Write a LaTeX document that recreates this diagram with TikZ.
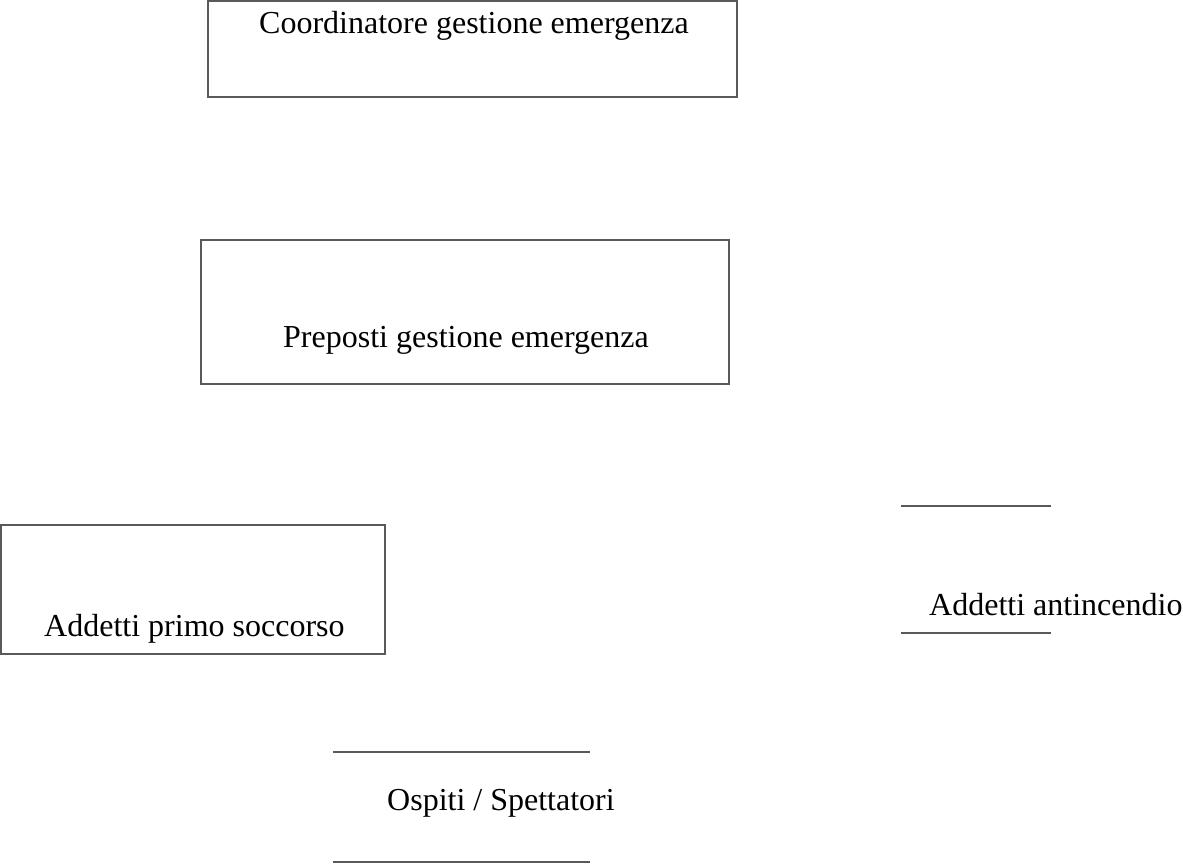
\documentclass[tikz,border=0pt]{standalone}
\usepackage{fontspec}
\setmainfont{Liberation Serif}
\begin{document}
\begin{tikzpicture}[x=1pt,y=-1pt,
  frame/.style={draw=black!65, line width=1.3pt},
  box/.style={frame, rectangle, inner sep=0pt},
  lbl/.style={anchor=base west, inner sep=0pt, font=\fontsize{32}{38}\selectfont}]
\useasboundingbox (0,0) rectangle (1183,865);
\fill[white] (0,0) rectangle (1183,865);
% boxes
\node[box, minimum width=529pt, minimum height=96pt] (b1) at (472.5,49) {};
\node[box, minimum width=528pt, minimum height=144pt] (b2) at (465,312) {};
\node[box, minimum width=384pt, minimum height=129pt] (b3) at (193,589.5) {};
% labels
\node[lbl] (t1) at (259,33) {Coordinatore gestione emergenza};
\node[lbl] (t2) at (283,347) {Preposti gestione emergenza};
\node[lbl] (t3) at (44,636) {Addetti primo soccorso};
\node[lbl] (t4) at (929,615) {Addetti antincendio};
\node[lbl] (t5) at (387,810) {Ospiti / Spettatori};
% open frames
\draw[frame] (901,506) -- (1051,506);
\draw[frame] (901,633) -- (1051,633);
\draw[frame] (333,752) -- (590,752);
\draw[frame] (333,862) -- (590,862);
\end{tikzpicture}
\end{document}
